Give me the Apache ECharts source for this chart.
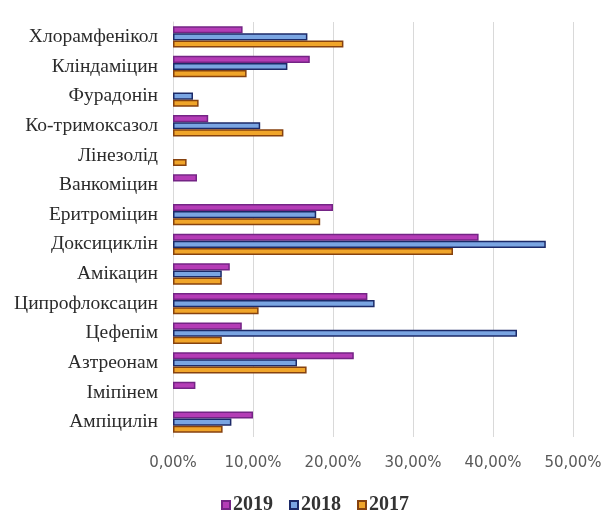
<!DOCTYPE html>
<html>
<head>
<meta charset="utf-8">
<script src="https://cdn.jsdelivr.net/npm/echarts@6/dist/echarts.min.js"></script>
<style>
  html, body { margin: 0; padding: 0; background: #ffffff; }
  #chart { width: 608px; height: 511px; }
</style>
</head>
<body>
<div id="chart"></div>
<script>
// Antibiotics, listed top to bottom
const categories = [
  'Хлорамфенікол', 'Кліндаміцин', 'Фурадонін', 'Ко-тримоксазол', 'Лінезолід',
  'Ванкоміцин', 'Еритроміцин', 'Доксициклін', 'Амікацин', 'Ципрофлоксацин',
  'Цефепім', 'Азтреонам', 'Іміпінем', 'Ампіцилін'
];

// Share of resistant strains, %
const values2019 = [8.7, 17.1, 0, 4.4, 0, 3.0, 20.0, 38.2, 7.1, 24.3, 8.6, 22.6, 2.8, 10.0];
const values2018 = [16.8, 14.3, 2.5, 10.9, 0, 0, 17.9, 46.6, 6.1, 25.2, 43.0, 15.5, 0, 7.3];
const values2017 = [21.3, 9.2, 3.2, 13.8, 1.7, 0, 18.4, 35.0, 6.1, 10.7, 6.1, 16.7, 0, 6.2];

const xTicks = [0, 10, 20, 30, 40, 50];

const seriesDefs = [
  { name: '2019', data: values2019, fill: '#b43cb6', edge: '#742485' },
  { name: '2018', data: values2018, fill: '#7aa5e2', edge: '#1c2a68' },
  { name: '2017', data: values2017, fill: '#f0a52a', edge: '#86420f' }
];

const chart = echarts.init(document.getElementById('chart'), null, { renderer: 'canvas' });

chart.setOption({
  backgroundColor: '#ffffff',
  animation: false,
  grid: { left: 173, right: 35, top: 22, bottom: 74, containLabel: false },
  legend: {
    top: 490,
    left: 216,
    itemWidth: 8,
    itemHeight: 8,
    itemGap: 16,
    icon: 'rect',
    textStyle: { fontFamily: 'Liberation Serif', fontWeight: 'bold', fontSize: 20, color: '#333333', padding: [0, 0, 0, -2] },
    data: seriesDefs.map(s => s.name)
  },
  xAxis: {
    type: 'value',
    min: xTicks[0],
    max: xTicks[xTicks.length - 1],
    interval: 10,
    axisLine: { show: false },
    axisTick: { show: false },
    splitLine: { show: true, lineStyle: { color: '#d9d9d9', width: 1 } },
    axisLabel: {
      margin: 19,
      fontFamily: 'DejaVu Sans',
      fontSize: 15,
      color: '#595959',
      formatter: v => v.toFixed(2).replace('.', ',') + '%'
    }
  },
  yAxis: {
    type: 'category',
    inverse: true,
    data: categories,
    axisLine: { show: true, lineStyle: { color: '#d9d9d9' } },
    axisTick: { show: false },
    axisLabel: {
      margin: 15,
      fontFamily: 'Liberation Serif',
      fontSize: 19.5,
      color: '#2b2b2b'
    }
  },
  series: seriesDefs.map(s => ({
    name: s.name,
    type: 'bar',
    // zero shares are left out so no empty outline is drawn
    data: s.data.map(v => (v === 0 ? null : v)),
    barGap: '0%',
    barCategoryGap: '28%',
    itemStyle: { color: s.fill, borderColor: s.edge, borderWidth: 1.5 }
  }))
});
</script>
</body>
</html>
